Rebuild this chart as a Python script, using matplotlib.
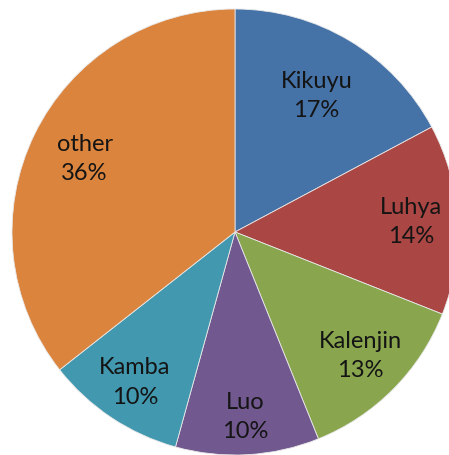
import matplotlib
matplotlib.use("Agg")
import matplotlib.pyplot as plt
import numpy as np

groups = ["Kikuyu", "Luhya", "Kalenjin", "Luo", "Kamba", "other"]
shares = [17.2, 13.8, 12.9, 10.4, 10.1, 35.6]
colors = ["#4572A7", "#AA4643", "#89A54E", "#71588F", "#4198AF", "#DB843D"]
label_r = [0.71, 0.79, 0.79, 0.83, 0.81, 0.75]

W, H = 449, 455
fig = plt.figure(figsize=(W / 100, H / 100), dpi=100)
ax = fig.add_axes([0, 0, 1, 1])
cx, cy, R = 235, 232, 223

wedges, _ = ax.pie(shares, colors=colors, startangle=90, counterclock=False,
                   radius=1.0, wedgeprops=dict(edgecolor="#e8e8e8", linewidth=0.6))
total = sum(shares)
for w, name, v, r in zip(wedges, groups, shares, label_r):
    mid = np.deg2rad((w.theta1 + w.theta2) / 2)
    x, y = r * np.cos(mid), r * np.sin(mid)
    ax.text(x, y, f"{name}\n{round(v / total * 100):.0f}%", ha="center", va="center",
            fontsize=17, family="Lato", color="#141414", linespacing=1.5)

ax.set_aspect("auto")
ax.set_xlim((0 - cx) / R, (W - cx) / R)
ax.set_ylim(-(H - cy) / R, cy / R)
ax.axis("off")
fig.savefig("out.png", dpi=100, facecolor="white")
